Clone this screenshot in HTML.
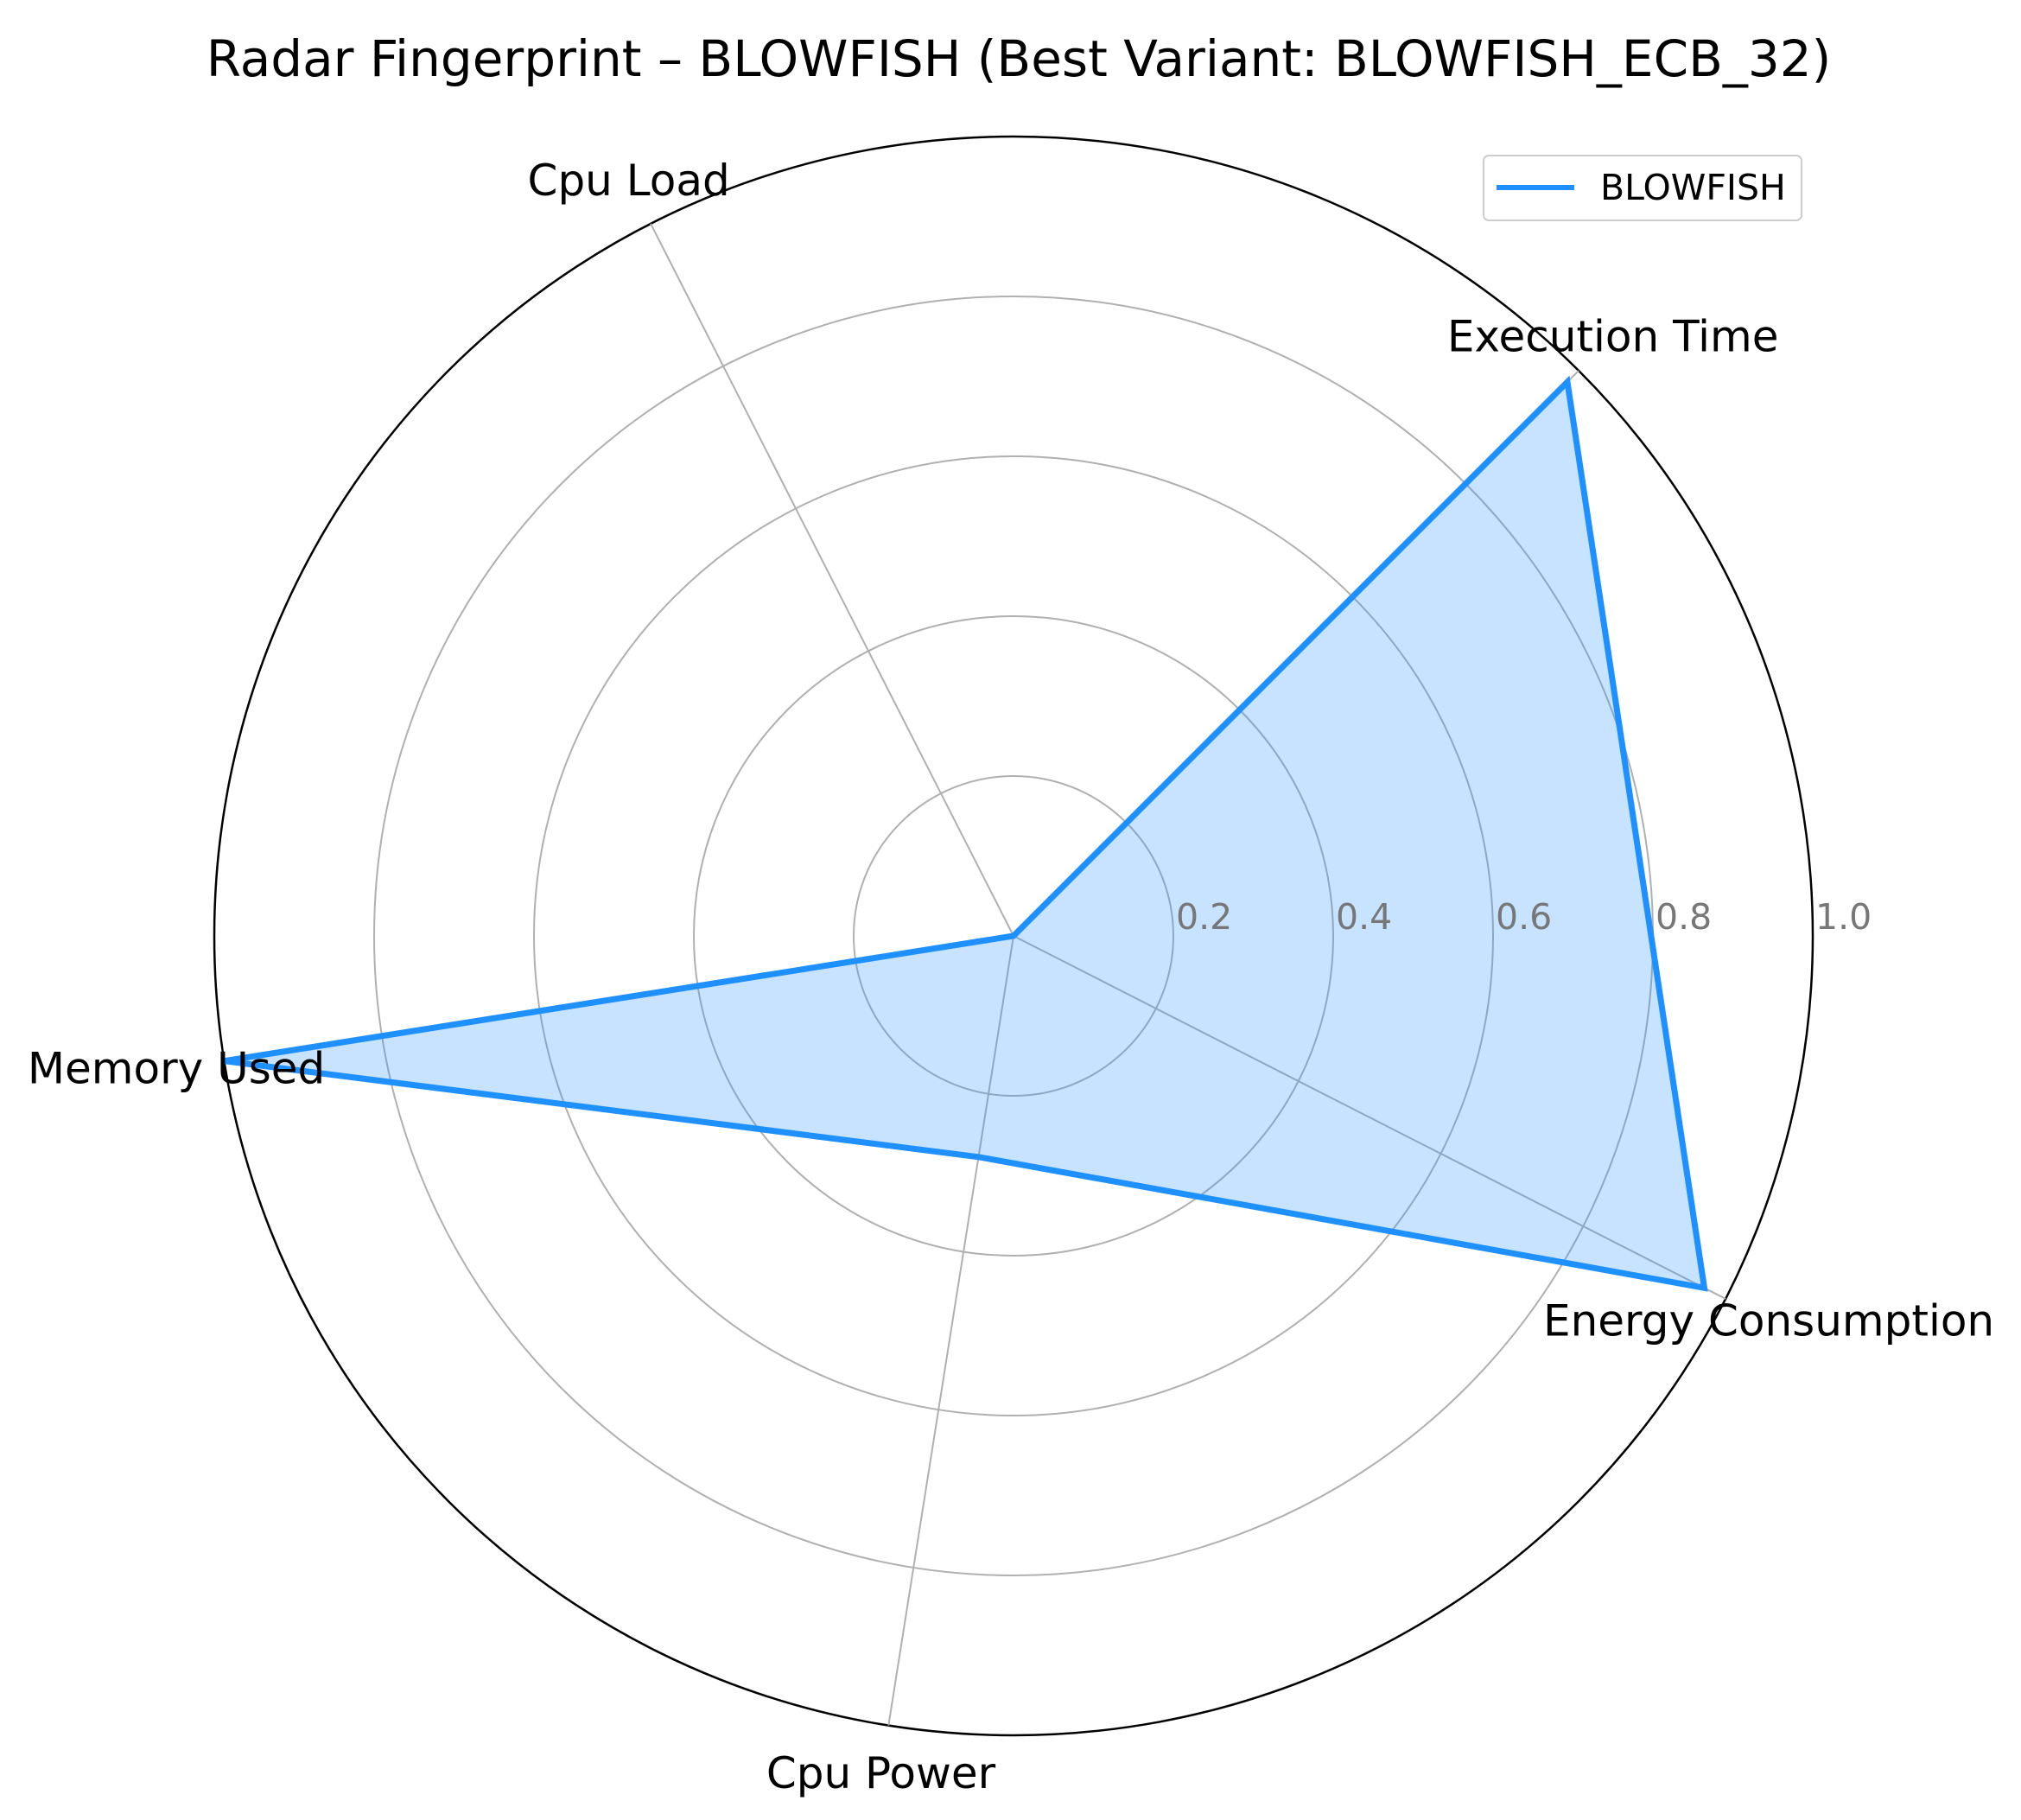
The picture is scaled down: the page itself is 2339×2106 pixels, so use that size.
<!DOCTYPE html>
<html><head><meta charset="utf-8"><style>
html,body{margin:0;padding:0;background:#fff;}
svg{display:block;font-family:"DejaVu Sans","Liberation Sans",sans-serif;}
</style></head><body>
<svg id="chart" width="2339" height="2106" viewBox="0 0 2339 2106" xmlns="http://www.w3.org/2000/svg">
<text x="1179" y="68" font-size="58" text-anchor="middle" dominant-baseline="central" fill="#000">Radar Fingerprint – BLOWFISH (Best Variant: BLOWFISH_ECB_32)</text>
<g id="grid"></g>
<g id="series"></g>
<g id="labels"></g>
<g>
<rect x="1717" y="180" width="368" height="75" rx="6" fill="#fff" stroke="#ccc" stroke-width="2"/>
<line x1="1732" y1="217" x2="1822" y2="217" stroke="#1e90ff" stroke-width="6"/>
<text x="1852" y="217" font-size="41" dominant-baseline="central" fill="#000">BLOWFISH</text>
</g>
</svg>
<script>
const categories = ["Execution Time","Cpu Load","Memory Used","Cpu Power","Energy Consumption"];
const values = [0.98, 0.0, 1.0, 0.28, 0.97];
const ticks = [0.2,0.4,0.6,0.8,1.0];
const tickLabels = ["0.2","0.4","0.6","0.8","1.0"];
const cx=1173, cy=1083, R=925, startDeg=45;
const NS="http://www.w3.org/2000/svg";
function ang(i){return (startDeg+360*i/categories.length)*Math.PI/180;}
function pt(i,v){const a=ang(i);return [cx+R*v*Math.cos(a), cy-R*v*Math.sin(a)];}
function mk(tag,attrs,parent){const e=document.createElementNS(NS,tag);for(const k in attrs)e.setAttribute(k,attrs[k]);parent.appendChild(e);return e;}
const grid=document.getElementById('grid');
ticks.forEach((t,j)=>{
  const c=mk('circle',{cx:cx,cy:cy,r:R*t,fill:'none',stroke:t===1?'#000':'#b0b0b0','stroke-width':t===1?2.5:2},grid);
  
  
});
categories.forEach((c,i)=>{
  const p=pt(i,1);
  const l=mk('line',{x1:cx,y1:cy,x2:p[0],y2:p[1],stroke:'#b0b0b0','stroke-width':2},grid);
  
  
});
const ser=document.getElementById('series');
const pts=values.map((v,i)=>pt(i,v).map(n=>n.toFixed(1)).join(',')).join(' ');
const poly=mk('polygon',{points:pts,fill:'#1e90ff','fill-opacity':0.25,stroke:'#1e90ff','stroke-width':7,'stroke-linejoin':'miter'},ser);


ticks.forEach((t,j)=>{
  const tx=mk('text',{x:cx+R*t+3,y:cy-22,'font-size':41,fill:'#777','dominant-baseline':'central'},ser);
  tx.textContent=tickLabels[j];
  
  
});
const lab=document.getElementById('labels');
categories.forEach((c,i)=>{
  const a=ang(i);const lx=cx+(R+56)*Math.cos(a), ly=cy-(R+56)*Math.sin(a);
  const t=mk('text',{x:lx,y:ly,'font-size':50,'text-anchor':'middle','dominant-baseline':'central',fill:'#000'},lab);
  t.textContent=c;
  
  
});
</script>
</body></html>
